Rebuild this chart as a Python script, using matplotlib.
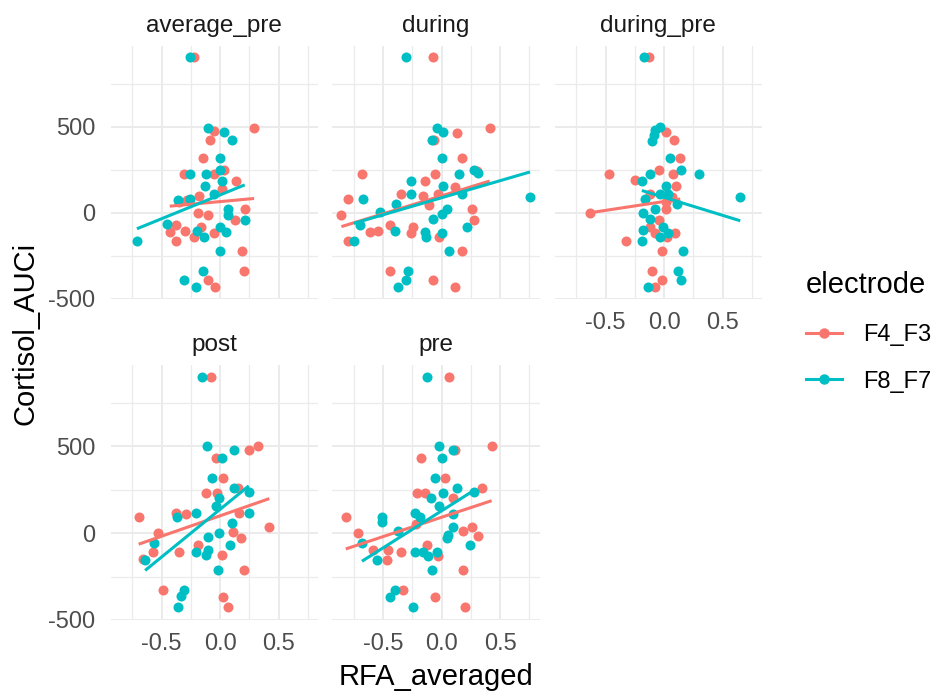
import numpy as np
import matplotlib.pyplot as plt
from matplotlib.lines import Line2D
from matplotlib.ticker import MultipleLocator

plt.rcParams['font.family'] = ['Liberation Sans', 'DejaVu Sans']

panels = ['average_pre', 'during', 'during_pre', 'post', 'pre']
electrodes = ['F4_F3', 'F8_F7']
colors = ['#F8766D', '#00BFC4']

# average_pre
avgpre_f4_x = [-0.22, -0.05, 0.29, -0.09, -0.15, -0.31, -0.05, 0.03, 0.137, 0.02, -0.18, -0.28, -0.35, -0.19,
               -0.1, 0.21, 0.13, -0.38, -0.43, -0.3, -0.38, -0.16, -0.22, -0.054, 0.19, 0.2, -0.105, -0.04]
avgpre_f4_y = [903, 475, 495, 423, 320, 223, 223, 248, 186, 136, 99, 74, 64, 0,
               -14, 21, -39, -72, -110, -107, -165, -85, -143, -116, -223, -339, -388, -434]
avgpre_f8_x = [-0.26, -0.105, 0.03, 0.10, 0.0, -0.26, -0.12, 0.0, 0.017, -0.125, -0.05, -0.36, -0.26,
               0.065, 0.065, 0.21, -0.45, -0.71, -0.2, -0.14, 0.0, 0.05, 0.0, -0.15, -0.31, -0.21]
avgpre_f8_y = [903, 495, 471, 423, 320, 223, 223, 248, 184, 155, 107, 74, 80,
               25, -14, -39, -62, -163, -105, -143, -81, -114, -221, -337, -388, -434]

# during
during_f4_x = [-0.07, 0.41, 0.134, -0.066, 0.17, -0.68, -0.057, 0.3, -0.14, 0.114, -0.35, -0.16, -0.03, -0.8,
               -0.105, -0.855, 0.256, 0.276, -0.44, -0.61, -0.54, -0.24, -0.265, -0.8, -0.02, 0.17, -0.44,
               -0.07, 0.114]
during_f4_y = [903, 495, 467, 423, 320, 223, 223, 242, 186, 151, 109, 97, 109, 80,
               45, -14, 21, -39, -68, -110, -107, -81, -120, -163, -143, -223, -337,
               -388, -434]
during_f8_x = [-0.3, -0.043, 0.014, -0.085, 0.0, 0.276, 0.31, 0.15, -0.265, 0.014, -0.265, 0.17, -0.67, -0.385,
               -0.53, 0.755, 0.05, 0.0, -0.07, 0.22, -0.7, -0.4, -0.14, -0.13, 0.0, -0.75, 0.066, -0.285,
               -0.3, -0.37]
during_f8_y = [903, 495, 471, 423, 320, 248, 229, 223, 186, 155, 107, 107, 80, 50,
               6, 93, 25, -4, -37, -81, -68, -105, -114, -143, -116, -163, -223, -337,
               -388, -434]

# during_pre
durpre_f4_x = [-0.125, 0.017, 0.085, 0.137, -0.47, -0.04, 0.08, -0.25, 0.1, -0.12, 0.066, -0.63, 0.017, 0.02,
               -0.04, -0.12, -0.077, 0.094, 0.023, -0.325, -0.014, -0.105, -0.014, -0.077]
durpre_f4_y = [903, 471, 423, 320, 223, 248, 223, 190, 155, 107, 93, 0, 25, 64,
               -39, -85, -116, -116, -143, -163, -223, -337, -388, -434]
durpre_f8_x = [-0.17, -0.034, -0.077, -0.09, -0.105, 0.05, 0.14, 0.3, -0.12, -0.19, 0.017, 0.65, 0.037, -0.034,
               -0.16, 0.108, -0.077, -0.18, -0.12, -0.18, -0.19, -0.006, 0.037, -0.034, 0.16, 0.12, 0.14, -0.14]
durpre_f8_y = [903, 500, 481, 452, 419, 320, 248, 223, 223, 184, 155, 93, 107, 107,
               83, 50, 25, 0, -33, -101, -163, -85, -116, -140, -223, -337, -388, -434]

# post
post_f4_x = [-0.077, 0.245, 0.32, -0.034, 0.023, -0.12, -0.028, 0.15, -0.38, -0.29, -0.695, 0.165, 0.42,
             -0.53, 0.108, 0.18, -0.19, -0.575, -0.35, -0.66, 0.017, 0.208, -0.49, 0.028, 0.065]
post_f4_y = [903, 480, 500, 432, 317, 230, 230, 260, 115, 108, 96, 115, 35,
             0, 6, -27, -67, -106, -106, -148, -125, -211, -327, -369, -423]
post_f8_x = [-0.154, -0.114, 0.12, 0.017, -0.068, 0.12, 0.245, -0.011, -0.034, -0.205, -0.37, 0.245, 0.1,
             -0.105, -0.006, 0.088, -0.105, -0.205, -0.12, -0.56, -0.64, -0.02, -0.305, -0.333, -0.36]
post_f8_y = [903, 500, 480, 432, 317, 260, 236, 202, 154, 115, 92, 115, 58,
             -23, 0, -67, -96, -106, -125, -58, -154, -211, -327, -365, -423]

# pre
pre_f4_x = [0.066, 0.427, 0.114, -0.18, 0.028, -0.214, -0.142, 0.348, 0.1, -0.818, -0.22, -0.712, 0.185,
            0.256, 0.313, -0.584, -0.456, -0.35, -0.47, -0.128, -0.028, 0.185, -0.328, -0.057, 0.2]
pre_f4_y = [903, 500, 480, 432, 317, 230, 230, 260, 202, 96, 54, 0, 10,
            35, -19, -100, -100, -106, -154, -67, -129, -211, -327, -369, -423]
pre_f8_x = [-0.128, -0.023, 0.094, 0.0, -0.057, 0.128, 0.276, 0.014, -0.091, -0.02, -0.228, -0.513, -0.513,
            -0.185, 0.1, 0.1, 0.057, 0.043, -0.37, -0.68, 0.242, -0.555, -0.228, -0.157, -0.114, -0.037,
            -0.085, -0.4, -0.44, -0.242]
pre_f8_y = [903, 500, 480, 432, 317, 260, 236, 230, 202, 154, 115, 96, 63,
            96, 108, 38, -13, -29, 15, -58, -67, -154, -106, -106, -129, -106,
            -211, -327, -369, -423]

data = {
    'average_pre': [(avgpre_f4_x, avgpre_f4_y), (avgpre_f8_x, avgpre_f8_y)],
    'during': [(during_f4_x, during_f4_y), (during_f8_x, during_f8_y)],
    'during_pre': [(durpre_f4_x, durpre_f4_y), (durpre_f8_x, durpre_f8_y)],
    'post': [(post_f4_x, post_f4_y), (post_f8_x, post_f8_y)],
    'pre': [(pre_f4_x, pre_f4_y), (pre_f8_x, pre_f8_y)],
}

# shared scales with 5% expansion
all_x = np.concatenate([np.asarray(s[0]) for v in data.values() for s in v])
all_y = np.concatenate([np.asarray(s[1]) for v in data.values() for s in v])
xpad = (all_x.max() - all_x.min()) * 0.05
ypad = (all_y.max() - all_y.min()) * 0.05
xlim = (all_x.min() - xpad, all_x.max() + xpad)
ylim = (all_y.min() - ypad, all_y.max() + ypad)

W, H = 939, 698
fig = plt.figure(figsize=(W / 100, H / 100), dpi=100)
fig.patch.set_facecolor('white')

col_left = [110.5, 332.0, 554.5]
pw = 207.5
row_top = [46, 365]
ph = [253, 255]

tick_col = '#4D4D4D'
for i, name in enumerate(panels):
    r, c = divmod(i, 3)
    left, top = col_left[c], row_top[r]
    ax = fig.add_axes([left / W, 1 - (top + ph[r]) / H, pw / W, ph[r] / H])
    ax.set_xlim(xlim)
    ax.set_ylim(ylim)
    for s in ax.spines.values():
        s.set_visible(False)
    ax.xaxis.set_major_locator(MultipleLocator(0.5))
    ax.xaxis.set_minor_locator(MultipleLocator(0.25))
    ax.yaxis.set_major_locator(MultipleLocator(500))
    ax.yaxis.set_minor_locator(MultipleLocator(250))
    ax.grid(which='major', color='#EBEBEB', lw=1.4)
    ax.grid(which='minor', color='#EBEBEB', lw=0.9)
    ax.set_axisbelow(True)
    ax.tick_params(which='both', length=0, labelsize=17, labelcolor=tick_col)
    ax.tick_params(axis='x', pad=9.5)
    ax.tick_params(axis='y', pad=11)
    ax.xaxis.set_major_formatter(lambda v, p: f'{v:.1f}')
    ax.yaxis.set_major_formatter(lambda v, p: f'{v:.0f}')
    if c != 0:
        ax.tick_params(axis='y', labelleft=False)
    if r == 0 and c != 2:
        ax.tick_params(axis='x', labelbottom=False)
    ax.set_title(name, fontsize=17.5, color='#1A1A1A', pad=10.3)

    groups = data[name]
    for (gx, gy), col in zip(groups, colors):
        ax.scatter(gx, gy, s=52, color=col, linewidths=0, zorder=3)
    # linear fit per electrode over its own x range
    for (gx, gy), col in zip(groups, colors):
        gx = np.asarray(gx)
        gy = np.asarray(gy)
        k, b = np.polyfit(gx, gy, 1)
        xs = np.array([gx.min(), gx.max()])
        ax.plot(xs, k * xs + b, color=col, lw=2.2, zorder=4, solid_capstyle='butt')

fig.text(436 / W, 1 - 677 / H, 'RFA_averaged', ha='center', va='center', fontsize=21, color='black')
fig.text(26 / W, 1 - 333 / H, 'Cortisol_AUCi', ha='center', va='center', rotation=90, fontsize=21,
         color='black')

handles = [Line2D([], [], color=col, lw=2.2, marker='o', markersize=6.5) for col in colors]
leg = fig.legend(handles, electrodes, title='electrode', loc='upper left',
                 bbox_to_anchor=(806 / W, 1 - 271 / H), frameon=False, fontsize=17,
                 title_fontsize=21, handlelength=1.53, handletextpad=0.9, labelspacing=1.05,
                 borderpad=0, borderaxespad=0)
leg._legend_box.align = 'left'

fig.savefig('out.png', dpi=100)
